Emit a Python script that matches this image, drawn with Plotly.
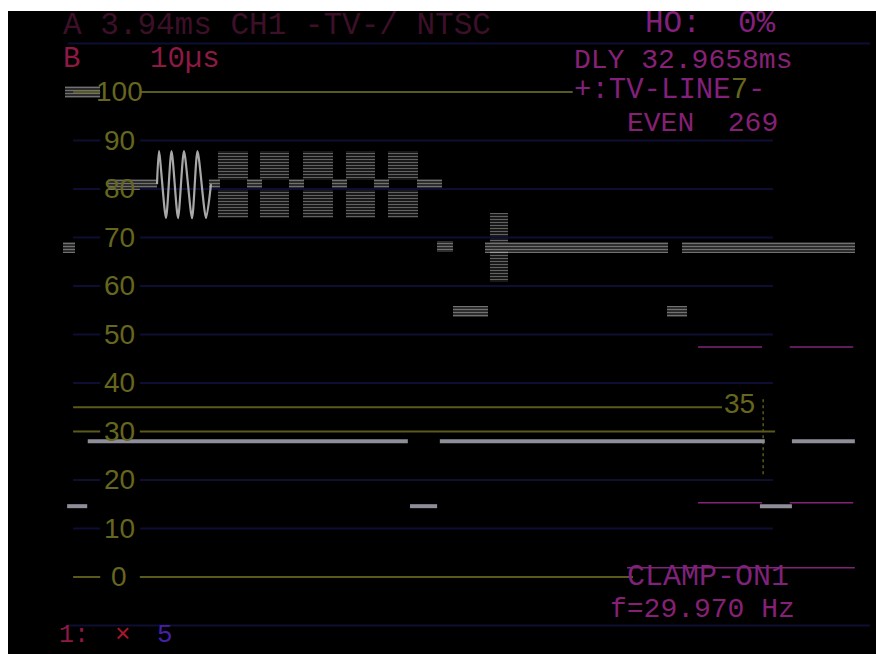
import plotly.graph_objects as go

# ---------------- screen geometry ----------------
W, H = 876, 654
ML, MT = 8, 11                    # white frame left / top
X_RANGE = [0.0, 160.0]            # time across the screen, µs
Y_RANGE = [-15.88, 116.70]        # IRE

# ---------------- graticule ----------------
grid_levels = [90, 80, 70, 60, 50, 40, 20, 10]
outer_levels = [110, -10]
ref_levels = [100, 30, 0]
ref_ends = [104.1, 141.4, 115.2]
scale_values = [100, 90, 80, 70, 60, 50, 40, 30, 20, 10, 0]
scale_labels = ["100", "90", "80", "70", "60", "50", "40", "30", "20", "10", "0"]
marker_level = 35
marker_label = "35"

# ---------------- waveform ----------------
# flat video levels: start µs, end µs, IRE
video_start = [10.1, 10.5, 18.4, 37.1, 44.1, 51.8, 59.7, 67.5, 75.4, 79.1, 82.0, 87.9, 121.5, 124.2]
video_end = [12.4, 17.0, 27.5, 39.1, 46.8, 54.6, 62.5, 70.2, 80.0, 82.0, 88.5, 121.7, 125.2, 156.1]
video_level = [68.0, 100.0, 81.0, 81.0, 81.0, 81.0, 81.0, 81.0, 81.0, 68.2, 54.8, 68.0, 54.8, 68.0]

# blanking and sync tips
blank_start = [14.7, 79.6, 144.5]
blank_end = [73.7, 139.5, 156.1]
blank_level = [28.0, 28.0, 28.0]
sync_start = [10.9, 74.1, 138.6]
sync_end = [14.6, 79.1, 144.5]
sync_level = [14.6, 14.6, 14.6]

# frequency sweep, peaks and troughs
sweep_t = [27.47, 27.83, 29.12, 30.14, 31.34, 32.44, 33.92, 34.93, 36.50, 37.42]
sweep_v = [81.0, 87.8, 74.0, 87.8, 74.0, 87.8, 74.0, 87.8, 74.0, 81.0]

# burst packets: start, end, top, bottom, centre
burst_start = [38.7, 46.5, 54.4, 62.3, 70.0, 88.8]
burst_end = [44.2, 51.8, 59.9, 67.6, 75.6, 92.2]
burst_top = [87.8, 87.8, 87.8, 87.8, 87.8, 75.1]
burst_bottom = [74.0, 74.0, 74.0, 74.0, 74.0, 60.8]
burst_mid = [81.0, 81.0, 81.0, 81.0, 81.0, 68.0]

# cursor lines
cursor_start = [127.2, 144.1, 127.2, 144.1, 114.1]
cursor_end = [139.0, 155.8, 139.0, 155.8, 156.1]
cursor_level = [47.4, 47.4, 15.3, 15.3, 1.9]
cursor_x = 139.2
cursor_span = [21.2, 37.1]

# ---------------- styles ----------------
NAVY = "#0e0e34"
OLIVE = "#5a5a1c"
OLIVE_TXT = "#66661e"
TRACE = "#e2e2e2"
MAGENTA = "#80247a"
BAND = 2.3          # IRE thickness of a bright trace band
BURST_GAP = 0.8     # dim centre of a burst packet
LABEL_GAP = (17.0, 24.3)
GRID_X0, GRID_X1 = 12.0, 141.0

MONO = "Liberation Mono, DejaVu Sans Mono, monospace"
NARROW = "Liberation Sans Narrow, Liberation Sans, sans-serif"


def seg_line(starts, ends, levels):
    xs, ys = [], []
    for a, b, v in zip(starts, ends, levels):
        xs += [a, b, None]
        ys += [v, v, None]
    return xs, ys


def px(x, y):
    return (x - ML) / (W - ML), 1 - (y - MT) / (H - MT)


fig = go.Figure()

# graticule lines with the gap for the scale numbers
gx, gy = [], []
for v in grid_levels:
    gx += [GRID_X0, LABEL_GAP[0], None, LABEL_GAP[1], GRID_X1, None]
    gy += [v, v, None, v, v, None]
fig.add_trace(go.Scatter(x=gx, y=gy, mode="lines", line=dict(color=NAVY, width=2)))
ox, oy = seg_line([11.0] * len(outer_levels), [158.9] * len(outer_levels), outer_levels)
fig.add_trace(go.Scatter(x=ox, y=oy, mode="lines", line=dict(color=NAVY, width=2)))

rx, ry = [], []
for v, e in zip(ref_levels, ref_ends):
    rx += [GRID_X0, LABEL_GAP[0], None, LABEL_GAP[1], e, None]
    ry += [v, v, None, v, v, None]
rx += [GRID_X0, 131.6, None]
ry += [marker_level, marker_level, None]
fig.add_trace(go.Scatter(x=rx, y=ry, mode="lines", line=dict(color=OLIVE, width=2)))
fig.add_trace(go.Scatter(x=[cursor_x, cursor_x], y=cursor_span, mode="lines",
                         line=dict(color=OLIVE, width=1.5, dash="dot")))

# cursors
cx, cy = seg_line(cursor_start, cursor_end, cursor_level)
fig.add_trace(go.Scatter(x=cx, y=cy, mode="lines", line=dict(color=MAGENTA, width=1.5)))

# blanking / sync
bx, by = seg_line(blank_start + sync_start, blank_end + sync_end, blank_level + sync_level)
fig.add_trace(go.Scatter(x=bx, y=by, mode="lines", line=dict(color="#8e8e9a", width=4)))

stripes = dict(shape="-", fgcolor=TRACE, bgcolor="rgba(0,0,0,0)", size=3, solidity=0.6)

# bright video bands
fig.add_trace(go.Bar(
    x=[(a + b) / 2 for a, b in zip(video_start, video_end)],
    width=[b - a for a, b in zip(video_start, video_end)],
    base=[v - BAND / 2 for v in video_level],
    y=[BAND] * len(video_level),
    marker=dict(color="rgba(0,0,0,0)", pattern=stripes, line=dict(width=0)),
))

# burst packets, upper and lower halves
fig.add_trace(go.Bar(
    x=[(a + b) / 2 for a, b in zip(burst_start, burst_end)] * 2,
    width=[b - a for a, b in zip(burst_start, burst_end)] * 2,
    base=[m + BURST_GAP for m in burst_mid] + burst_bottom,
    y=[t - m - BURST_GAP for t, m in zip(burst_top, burst_mid)]
      + [m - BURST_GAP - b for b, m in zip(burst_bottom, burst_mid)],
    marker=dict(color="rgba(0,0,0,0)",
                pattern=dict(shape="-", fgcolor="#c4c4c4", bgcolor="rgba(0,0,0,0)",
                             size=3, solidity=0.5),
                line=dict(width=0)),
))

# sweep
fig.add_trace(go.Scatter(x=sweep_t, y=sweep_v, mode="lines",
                         line=dict(color="#a8a8a8", width=2.2, shape="spline", smoothing=0.7)))

# ---------------- text ----------------
ann = []
for v, t in zip(scale_values, scale_labels):
    ann.append(dict(x=20.46, y=v, xref="x", yref="y", text=t, showarrow=False,
                    xanchor="center", yanchor="middle", borderpad=0,
                    font=dict(family=NARROW, size=28, color=OLIVE_TXT)))
ann.append(dict(x=134.9, y=marker_level + 0.8, xref="x", yref="y", text=marker_label,
                showarrow=False, xanchor="center", yanchor="middle", borderpad=0,
                font=dict(family=NARROW, size=28, color=OLIVE_TXT)))


def label(x, y, text, color, size=28):
    xp, yp = px(x, y)
    ann.append(dict(x=xp, y=yp, xref="paper", yref="paper", text=text, showarrow=False,
                    xanchor="left", yanchor="middle", borderpad=0,
                    font=dict(family=MONO, size=size, color=color)))


label(62, 26, "A 3.94ms CH1 -TV-/ NTSC", "#3c1028", 31)
label(62, 59, "B    10µs", "#8e1a44", 29)
label(644, 24, "HO:  0%", "#82207c", 31)
label(573, 60, "DLY 32.9658ms", "#862276", 28)
label(573, 90, "+:TV-LINE<span style='color:#66661e'>7</span>-", "#82207c", 29)
label(626, 123, "EVEN  269", "#862074", 28)
label(626, 577, "CLAMP-ON1", "#7e227a", 30)
label(609, 609, "f=29.970 Hz", "#862074", 28)
label(58, 635, "1:", "#8e1a44", 25)
label(114, 635, "×", "#a8182c", 26)
label(156, 635, "5", "#4420a8", 26)

fig.update_layout(
    width=W, height=H,
    margin=dict(l=ML, r=0, t=MT, b=0, pad=0),
    paper_bgcolor="white", plot_bgcolor="black",
    showlegend=False, hovermode=False, barmode="overlay", bargap=0,
    xaxis=dict(range=X_RANGE, visible=False, fixedrange=True),
    yaxis=dict(range=Y_RANGE, visible=False, fixedrange=True),
    annotations=ann,
)

fig.write_html("out.html")
